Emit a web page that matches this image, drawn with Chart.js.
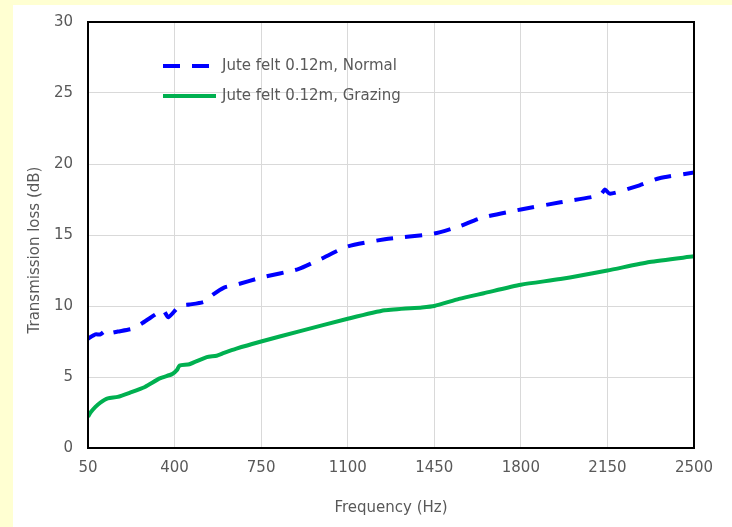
<!DOCTYPE html>
<html>
<head>
<meta charset="utf-8">
<script src="https://cdn.jsdelivr.net/npm/chart.js@4.4.1/dist/chart.umd.min.js"></script>
<style>
  html, body { margin: 0; padding: 0; background: #FFFFD2; }
  #wrap { position: absolute; left: 13px; top: 5px; width: 719px; height: 522px; background: #fff; }
</style>
</head>
<body>
<div id="wrap"><canvas id="tlChart" width="719" height="522"></canvas></div>
<script>
const normalFreq = [50, 80, 100, 125, 140, 170, 230, 270, 340, 355, 375, 420, 460, 520, 555, 600, 650, 750, 900, 990, 1100, 1250, 1450, 1550, 1640, 1800, 1960, 2120, 2140, 2160, 2280, 2360, 2500];
const normalTL = [7.7, 8.0, 8.0, 8.3, 8.1, 8.2, 8.4, 8.8, 9.6, 9.7, 9.2, 10.0, 10.1, 10.3, 10.8, 11.3, 11.5, 12.0, 12.6, 13.3, 14.2, 14.7, 15.1, 15.6, 16.2, 16.8, 17.3, 17.8, 18.2, 17.9, 18.5, 19.0, 19.4];
const grazingFreq = [50, 60, 80, 100, 130, 170, 220, 280, 340, 390, 410, 420, 460, 530, 570, 600, 650, 750, 900, 1100, 1250, 1400, 1450, 1550, 1650, 1800, 1960, 2150, 2320, 2500];
const grazingTL = [2.2, 2.5, 2.9, 3.2, 3.5, 3.6, 3.9, 4.3, 4.9, 5.2, 5.5, 5.8, 5.9, 6.4, 6.5, 6.7, 7.0, 7.5, 8.2, 9.1, 9.7, 9.9, 10.0, 10.5, 10.9, 11.5, 11.9, 12.5, 13.1, 13.5];
const xTicks = [50, 400, 750, 1100, 1450, 1800, 2150, 2500];
const seriesNames = ['Jute felt 0.12m, Normal', 'Jute felt 0.12m, Grazing'];
const yTitle = 'Transmission loss (dB)';

const toPoints = (xs, ys) => xs.map((x, i) => ({ x: x, y: ys[i] }));
const fontFam = '"DejaVu Sans", sans-serif';

// frame, legend and y title drawn by hand
const framePlugin = {
    id: 'frame',
    afterDraw(chart) {
        const ctx = chart.ctx;
        const a = chart.chartArea;
        ctx.save();
        ctx.strokeStyle = '#000';
        ctx.lineWidth = 2;
        ctx.strokeRect(a.left, a.top, a.right - a.left, a.bottom - a.top);

        ctx.font = '15px ' + fontFam;
        ctx.fillStyle = '#595959';
        ctx.textAlign = 'center';
        ctx.textBaseline = 'middle';
        ctx.save();
        ctx.translate(22, chart.height / 2 - 16);
        ctx.rotate(-Math.PI / 2);
        ctx.fillText(yTitle, 0, 0);
        ctx.restore();

        const ds = chart.data.datasets;
        const lx = a.left + 75, ly = a.top + 44;
        ctx.textAlign = 'left';
        ds.forEach((d, i) => {
            const y = ly + i * 30;
            ctx.strokeStyle = d.borderColor;
            ctx.lineWidth = 4;
            ctx.setLineDash(d.borderDash || []);
            ctx.beginPath();
            ctx.moveTo(lx, y);
            ctx.lineTo(lx + 53, y);
            ctx.stroke();
            ctx.setLineDash([]);
            ctx.fillStyle = '#595959';
            ctx.fillText(d.label, lx + 59, y);
        });
        ctx.restore();
    }
};

new Chart(document.getElementById('tlChart'), {
    type: 'line',
    data: {
        datasets: [{
            label: seriesNames[0],
            data: toPoints(normalFreq, normalTL),
            borderColor: '#0000FF',
            borderWidth: 4,
            borderDash: [17, 12],
            pointRadius: 0,
            tension: 0.2
        }, {
            label: seriesNames[1],
            data: toPoints(grazingFreq, grazingTL),
            borderColor: '#00B050',
            borderWidth: 4,
            pointRadius: 0,
            tension: 0.2
        }]
    },
    options: {
        responsive: false,
        animation: false,
        layout: { padding: { left: 0, top: 0, right: 38, bottom: 0 } },
        plugins: { legend: { display: false }, tooltip: { enabled: false } },
        scales: {
            x: {
                type: 'linear',
                min: 50,
                max: 2500,
                afterBuildTicks(scale) {
                    scale.ticks = xTicks.map(v => ({ value: v }));
                },
                afterFit(scale) { scale.height = 79; },
                grid: { color: '#D9D9D9', lineWidth: 1, drawTicks: false },
                border: { display: false },
                ticks: { color: '#595959', font: { size: 15, family: fontFam }, padding: 11, maxRotation: 0, callback: v => String(v) },
                title: { display: true, text: 'Frequency (Hz)', color: '#595959', font: { size: 15, family: fontFam }, padding: { top: 0, bottom: 10 } }
            },
            y: {
                min: 0,
                max: 30,
                afterFit(scale) {
                    scale.width = 75;
                    scale.paddingTop = 17;
                },
                grid: { color: '#D9D9D9', lineWidth: 1, drawTicks: false },
                border: { display: false },
                ticks: { stepSize: 5, color: '#595959', font: { size: 15, family: fontFam }, padding: 15 }
            }
        }
    },
    plugins: [framePlugin]
});
</script>
</body>
</html>
